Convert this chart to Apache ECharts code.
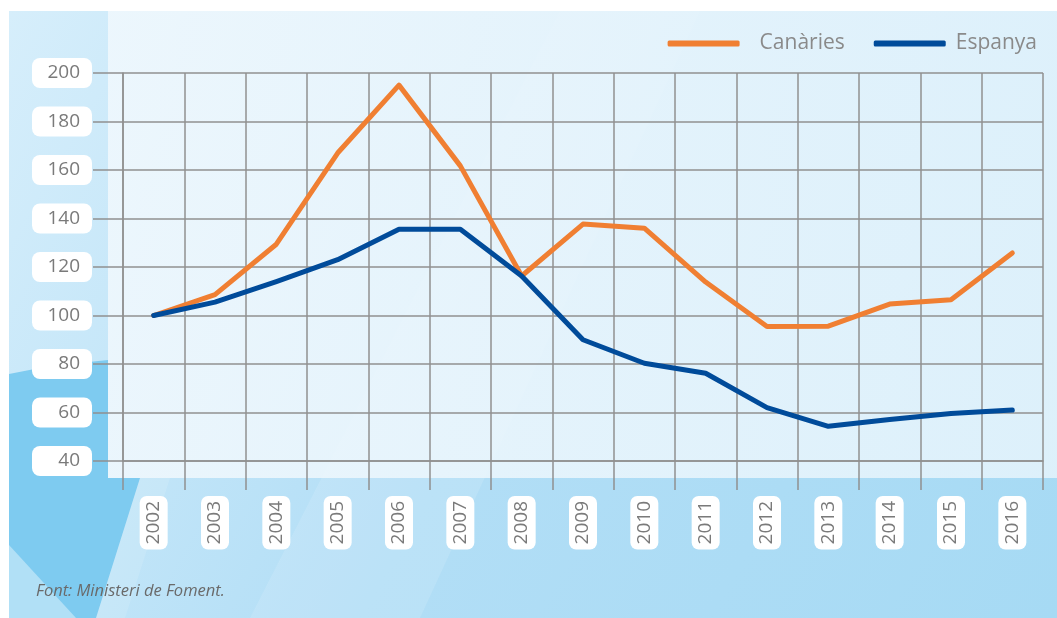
<!DOCTYPE html>
<html><head><meta charset="utf-8">
<script src="https://cdn.jsdelivr.net/npm/echarts@6/dist/echarts.min.js"></script>
<style>html,body{margin:0;padding:0;background:#fff}#c{width:1057px;height:618px}</style>
</head><body><div id="c"></div>
<script>
const years = ['2002','2003','2004','2005','2006','2007','2008','2009','2010','2011','2012','2013','2014','2015','2016'];
const canaries = [100, 108.6, 129.4, 167, 195, 161.7, 116.3, 137.7, 136, 113.8, 95.5, 95.6, 104.7, 106.5, 125.8];
const espanya  = [100, 105.5, 114, 123, 135.6, 135.6, 116.3, 90, 80.3, 76.2, 62, 54.3, 57.1, 59.6, 61];
const yTicks = { min: 40, max: 200, interval: 20 };
const seriesNames = ['Canàries', 'Espanya'];
const sourceNote = 'Font: Ministeri de Foment.';

const gridColor = '#909090';
const labelColor = '#7a7a7a';
const font = 'Open Sans';

const chart = echarts.init(document.getElementById('c'));
chart.setOption({
  animation: false,
  graphic: {
    elements: [
      { type: 'rect', z: -10, shape: { x: 9, y: 11, width: 1048, height: 607 },
        style: { fill: new echarts.graphic.LinearGradient(0, 0, 1, 1, [
          { offset: 0, color: '#d6eefb' }, { offset: 0.5, color: '#b2def6' }, { offset: 1, color: '#a6daf4' }]) } },
      { type: 'polygon', z: -9, shape: { points: [[9, 374], [50, 366], [108, 360], [108, 478], [140, 478], [96, 618], [9, 618]] },
        style: { fill: '#7ecbf0' } },
      { type: 'polygon', z: -8, shape: { points: [[9, 545], [9, 618], [76, 618]] },
        style: { fill: 'rgba(255,255,255,0.4)' } },
      { type: 'polygon', z: -8, shape: { points: [[96, 618], [140, 478], [170, 478], [125, 618]] },
        style: { fill: 'rgba(255,255,255,0.12)' } },
      { type: 'polygon', z: -8, shape: { points: [[250, 618], [420, 618], [700, 11], [560, 11]] },
        style: { fill: 'rgba(255,255,255,0.12)' } },
      { type: 'rect', z: -7, shape: { x: 108, y: 11, width: 949, height: 467 },
        style: { fill: new echarts.graphic.LinearGradient(0, 0, 1, 0, [
          { offset: 0, color: 'rgba(240,248,253,0.88)' }, { offset: 1, color: 'rgba(230,244,252,0.85)' }]) } },
      { type: 'text', z: 10, left: 36, top: 583,
        style: { text: sourceNote, fontFamily: font, fontStyle: 'italic', fontSize: 16.5, fill: '#6a6a6a' } }
    ]
  },
  legend: {
    data: [
      { name: seriesNames[0], textStyle: { padding: [0, 0, 0, 15] } },
      { name: seriesNames[1], textStyle: { padding: [0, 0, 0, 5] } }
    ],
    right: 20, top: 33, padding: 0,
    icon: 'roundRect',
    itemWidth: 72, itemHeight: 6, itemGap: 29,
    textStyle: { fontFamily: font, fontSize: 21, color: '#8a8a8a' }
  },
  grid: { left: 123, right: 14, top: 73, bottom: 157, outerBoundsMode: 'none' },
  xAxis: {
    type: 'category', data: years, boundaryGap: true,
    axisLine: { show: true, lineStyle: { color: gridColor, width: 1.5 } },
    axisTick: { show: true, length: 29, interval: 0, lineStyle: { color: gridColor, width: 1.5 } },
    splitLine: { show: true, interval: 0, lineStyle: { color: gridColor, width: 1.5 } },
    axisLabel: {
      interval: 0, rotate: 90, margin: 35,
      fontFamily: font, fontSize: 19, lineHeight: 20, color: labelColor,
      backgroundColor: '#fff', borderRadius: 7, padding: [4, 5, 4, 5]
    }
  },
  yAxis: {
    type: 'value', min: yTicks.min, max: yTicks.max, interval: yTicks.interval,
    axisLine: { show: true, lineStyle: { color: gridColor, width: 1.5 } },
    axisTick: { show: true, length: 30, lineStyle: { color: gridColor, width: 1.5 } },
    splitLine: { show: true, lineStyle: { color: gridColor, width: 1.5 } },
    axisLabel: {
      margin: 31, fontFamily: font, fontSize: 19, lineHeight: 20, color: labelColor,
      backgroundColor: '#fff', borderRadius: 8, padding: [5, 12, 5, 12],
      width: 36, align: 'right'
    }
  },
  series: [
    { name: seriesNames[0], type: 'line', data: canaries, symbol: 'none', z: 3,
      itemStyle: { color: '#f07f32' },
      lineStyle: { color: '#f07f32', width: 5, cap: 'round', join: 'round' } },
    { name: seriesNames[1], type: 'line', data: espanya, symbol: 'none', z: 4,
      itemStyle: { color: '#004b9a' },
      lineStyle: { color: '#004b9a', width: 5, cap: 'round', join: 'round' } }
  ]
});
</script></body></html>
